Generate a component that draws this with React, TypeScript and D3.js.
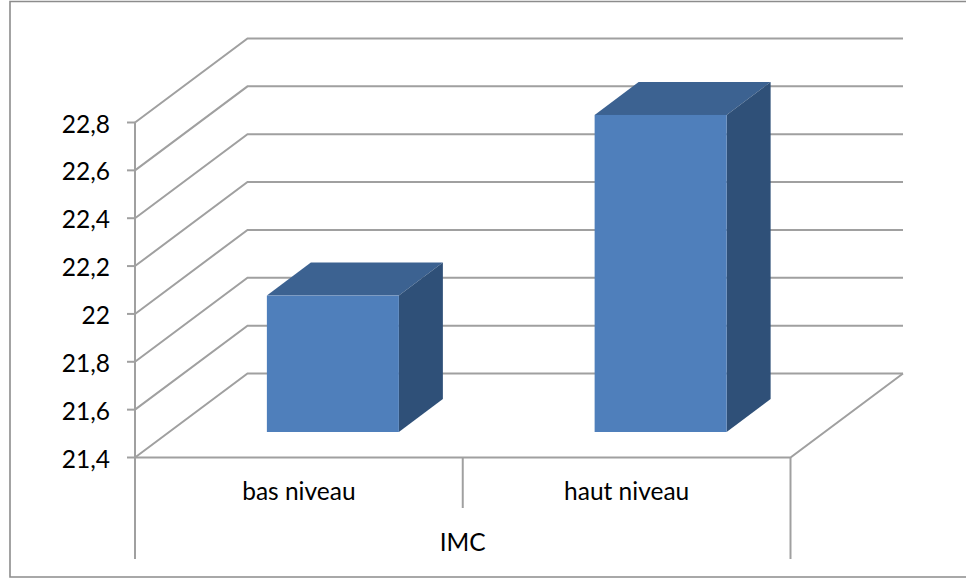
import React from "react";
import * as d3 from "d3";

const categories = ["bas niveau", "haut niveau"];
const groupLabel = "IMC";
const values = [21.97, 22.725];
const yTicks = [21.4, 21.6, 21.8, 22, 22.2, 22.4, 22.6, 22.8];

const WIDTH = 966;
const HEIGHT = 578;
const GREY = "#a0a0a0";
const FRAME = "#8c8c8c";
const FRONT = "#4f7fbb";
const TOP = "#3c6291";
const SIDE = "#2f5078";
const FONT_SIZE = 24.5;

// Front plane of the 3D box and the oblique depth offset of the rear wall
const x = d3.scaleBand<string>().domain(categories).range([135, 790.5]);
const y = d3.scaleLinear().domain([21.4, 22.8]).range([457.5, 122.5]);
const depth = { dx: 112.5, dy: -84 };

// Bars stand partway into the floor and have their own, shallower depth
const barWidth = 132;
const barShift = { dx: 34, dy: -25.5 };
const barDepth = { dx: 44, dy: -33 };

const poly = d3.line();
const fmt = (v: number) => String(v).replace(".", ",");

export default function App() {
  const [x0, x1] = x.range();
  const floorY = y(21.4);
  return (
    <svg
      width={WIDTH}
      height={HEIGHT}
      style={{ position: "absolute", left: 0, top: 0, background: "#fff" }}
      fontFamily="Lato, 'Open Sans', sans-serif"
    >
      {/* chart frame, open on the right where it runs off the page */}
      <path
        d={poly([[WIDTH, 1.5], [10, 1.5], [10, 577], [WIDTH, 577]]) ?? ""}
        fill="none"
        stroke={FRAME}
        strokeWidth={1.6}
      />

      {/* side wall and back wall gridlines */}
      {yTicks.map((t) => (
        <path
          key={t}
          d={
            poly([
              [x0, y(t)],
              [x0 + depth.dx, y(t) + depth.dy],
              [x1 + depth.dx, y(t) + depth.dy],
            ]) ?? ""
          }
          fill="none"
          stroke={GREY}
          strokeWidth={2}
        />
      ))}

      {/* floor edge, front axis and category separators */}
      <path
        d={poly([[x1 + depth.dx, floorY + depth.dy], [x1, floorY], [x0, floorY]]) ?? ""}
        fill="none"
        stroke={GREY}
        strokeWidth={2}
      />
      <line x1={x0} x2={x0} y1={y(22.8)} y2={559} stroke={GREY} strokeWidth={2} />
      <line x1={x1} x2={x1} y1={floorY} y2={559} stroke={GREY} strokeWidth={2} />
      <line x1={x(categories[1])} x2={x(categories[1])} y1={floorY} y2={508} stroke={GREY} strokeWidth={2} />

      {/* value axis */}
      {yTicks.map((t) => (
        <g key={t}>
          <line x1={x0 - 8} x2={x0} y1={y(t)} y2={y(t)} stroke={GREY} strokeWidth={2} />
          <text x={110} y={y(t) + 10} textAnchor="end" fontSize={FONT_SIZE} fill="#000">
            {fmt(t)}
          </text>
        </g>
      ))}

      {/* bars */}
      {categories.map((c, i) => {
        const cx = (x(c) ?? 0) + x.bandwidth() / 2 + barShift.dx;
        const l = cx - barWidth / 2;
        const r = cx + barWidth / 2;
        const bottom = floorY + barShift.dy;
        const top = bottom - (floorY - y(values[i]));
        return (
          <g key={c}>
            <path
              d={poly([[l, top], [r, top], [r + barDepth.dx, top + barDepth.dy], [l + barDepth.dx, top + barDepth.dy]]) + "Z"}
              fill={TOP}
            />
            <path
              d={poly([[r, top], [r + barDepth.dx, top + barDepth.dy], [r + barDepth.dx, bottom + barDepth.dy], [r, bottom]]) + "Z"}
              fill={SIDE}
            />
            <rect x={l} y={top} width={barWidth} height={bottom - top} fill={FRONT} />
          </g>
        );
      })}

      {/* category and group labels */}
      {categories.map((c) => (
        <text
          key={c}
          x={(x(c) ?? 0) + x.bandwidth() / 2}
          y={500}
          textAnchor="middle"
          fontSize={FONT_SIZE}
          fill="#000"
        >
          {c}
        </text>
      ))}
      <text x={(x0 + x1) / 2} y={551} textAnchor="middle" fontSize={FONT_SIZE} fill="#000">
        {groupLabel}
      </text>
    </svg>
  );
}
